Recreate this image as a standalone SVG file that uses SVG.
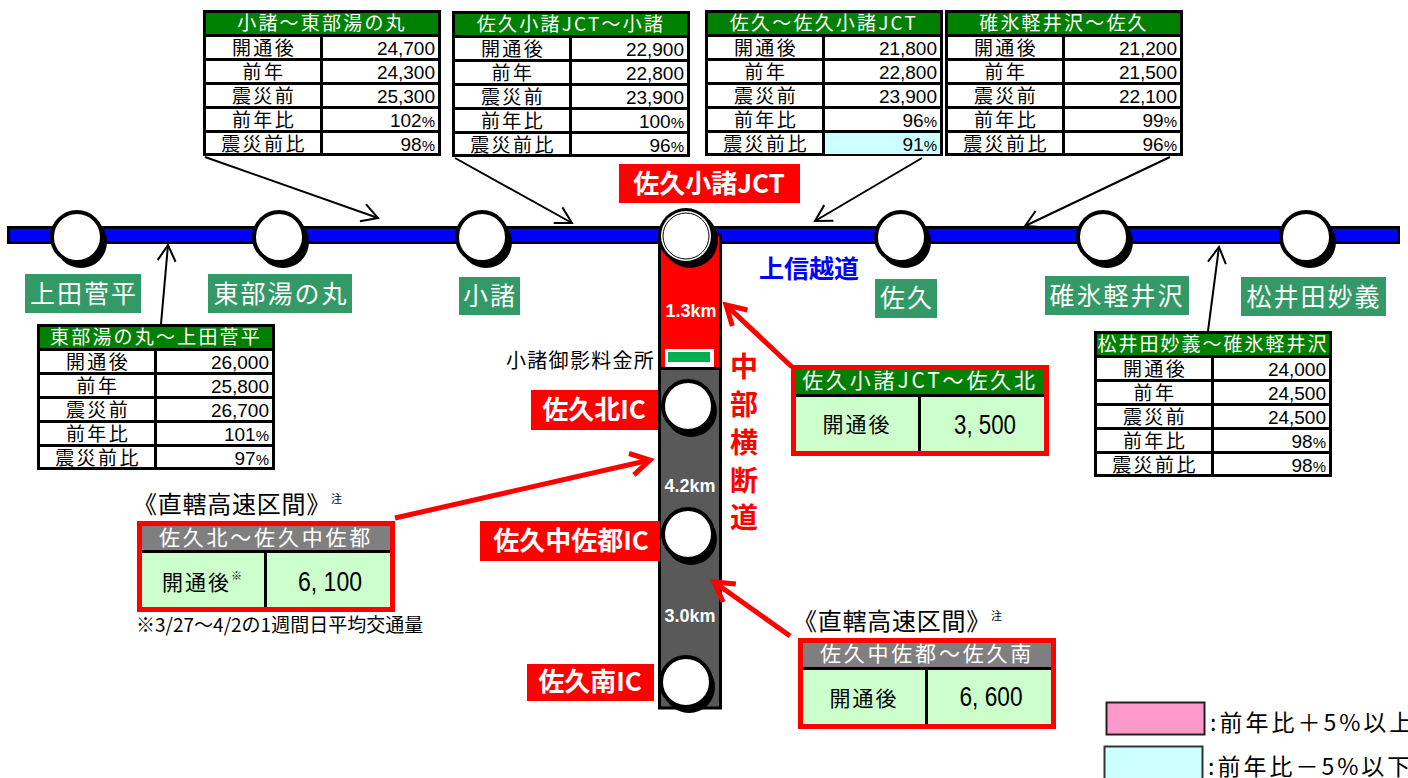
<svg xmlns="http://www.w3.org/2000/svg" width="1408" height="778" viewBox="0 0 1408 778">
<style>
text{font-family:"Noto Sans CJK JP","Liberation Sans",sans-serif;fill:#000}
.hd{font-size:19px;fill:#fff;text-anchor:middle;letter-spacing:2.2px}
.lb{font-size:19px;text-anchor:middle;letter-spacing:2.4px}
.nm{font-family:"Liberation Sans",sans-serif;font-size:19px;text-anchor:end}
.pc{font-size:15px}
.st{font-size:25px;fill:#fff;text-anchor:middle;letter-spacing:2px}
.ic{font-size:26px;font-weight:700;fill:#fff;text-anchor:middle}
.km{font-family:"Liberation Sans",sans-serif;font-size:18px;font-weight:700;fill:#fff;text-anchor:middle}
.big{font-size:21px;text-anchor:middle;letter-spacing:2px}
.val{font-family:"Liberation Sans",sans-serif;font-size:27px;text-anchor:middle}
.bhd{font-size:21px;fill:#fff;text-anchor:middle;letter-spacing:2.8px}
.ttl{font-size:24px;letter-spacing:.75px}
.sm{font-size:11px}
.vt{font-size:28px;font-weight:700;fill:#f00;text-anchor:middle}
.st-bg{fill:#396}
.ic-bg{fill:#f00}
.blk{fill:none;stroke:#000;stroke-width:2}
.red{fill:none;stroke:#f00;stroke-width:5}
.cs{fill:#000}
.cw{fill:#fff;stroke:#000;stroke-width:4}
</style>
<defs>
<marker id="ab" markerUnits="userSpaceOnUse" markerWidth="24" markerHeight="24" refX="20" refY="12" orient="auto"><path d="M4 3L20 12L4 21" fill="none" stroke="#000" stroke-width="2"/></marker>
<marker id="ar" markerUnits="userSpaceOnUse" markerWidth="36" markerHeight="36" refX="28" refY="18" orient="auto"><path d="M9 7L28 18L9 29" fill="none" stroke="#f00" stroke-width="5"/></marker>
<g id="tbl">
<rect x="1.5" y="1.5" width="235" height="143" fill="#fff" stroke="#000" stroke-width="3"/>
<rect x="3" y="3" width="232" height="22" fill="#008000"/>
<path d="M2 25.5H236M2 49.5H236M2 73.5H236M2 97.5H236M2 121.5H236M118.5 25V145" fill="none" stroke="#000" stroke-width="3"/>
</g>
<g id="box">
<rect x="2.500" y="2.500" width="253" height="86" fill="#cfc" stroke="#f00" stroke-width="5"/>
<path d="M5 30.500H253M128.500 32V86" fill="none" stroke="#000" stroke-width="3"/>
</g>
</defs>

<g id="road-joshinetsu"><rect x="8.500" y="227.500" width="1390" height="15" fill="#00f" stroke="#000" stroke-width="3"/></g>
<g id="road-chubu">
<rect x="659.500" y="235" width="61" height="473" fill="#595959" stroke="#000" stroke-width="3"/>
<rect x="661" y="236" width="58" height="131" fill="#f00"/>
<path d="M659 368.500H721" stroke="#000" stroke-width="3"/>
</g>

<g id="connectors">
<path class="blk" marker-end="url(#ab)" d="M205 157L378 218"/>
<path class="blk" marker-end="url(#ab)" d="M455 158L572 223"/>
<path class="blk" marker-end="url(#ab)" d="M922 158L815 221"/>
<path class="blk" marker-end="url(#ab)" d="M1170 157L1025 226"/>
<path class="blk" marker-end="url(#ab)" d="M161 324L168 245"/>
<path class="blk" marker-end="url(#ab)" d="M1208 331L1219 247"/>
<path class="red" marker-end="url(#ar)" d="M792 367L726 305"/>
<path class="red" marker-end="url(#ar)" d="M395 518L650 460"/>
<path class="red" marker-end="url(#ar)" d="M790 636L714 582"/>
</g>

<g id="n-ueda"><circle class="cs" cx="81" cy="242" r="26"/><circle class="cw" cx="77" cy="237" r="25"/><rect class="st-bg" x="25" y="274" width="116" height="39"/><text class="st" x="84" y="303">上田菅平</text></g>
<g id="n-tobu"><circle class="cs" cx="283" cy="242" r="26"/><circle class="cw" cx="279" cy="237" r="25"/><rect class="st-bg" x="208" y="274" width="144" height="39"/><text class="st" x="281" y="303">東部湯の丸</text></g>
<g id="n-komoro"><circle class="cs" cx="486" cy="242" r="26"/><circle class="cw" cx="482" cy="237" r="25"/><rect class="st-bg" x="459" y="277" width="61" height="38"/><text class="st" x="490" y="305">小諸</text></g>
<g id="n-jct"><circle class="cs" cx="690" cy="240" r="28"/><circle cx="686" cy="236" r="28" fill="#000"/><circle cx="686" cy="236" r="25" fill="#fff"/><circle cx="686" cy="236" r="23" fill="#fff" stroke="#000" stroke-width="1"/><rect class="ic-bg" x="619" y="164" width="181" height="39"/><text class="ic" x="709" y="193">佐久小諸JCT</text></g>
<g id="n-saku"><circle class="cs" cx="905" cy="242" r="26"/><circle class="cw" cx="901" cy="237" r="25"/><rect class="st-bg" x="875" y="279" width="62" height="39"/><text class="st" x="907" y="307">佐久</text></g>
<g id="n-usui"><circle class="cs" cx="1107" cy="242" r="26"/><circle class="cw" cx="1103" cy="237" r="25"/><rect class="st-bg" x="1045" y="276" width="144" height="39"/><text class="st" x="1117" y="305">碓氷軽井沢</text></g>
<g id="n-matsuida"><circle class="cs" cx="1310" cy="242" r="26"/><circle class="cw" cx="1306" cy="237" r="25"/><rect class="st-bg" x="1241" y="277" width="145" height="39"/><text class="st" x="1314" y="306">松井田妙義</text></g>
<g id="n-sakukita"><circle class="cs" cx="691" cy="411" r="26"/><circle class="cw" cx="688" cy="406" r="25"/><rect class="ic-bg" x="531" y="390" width="127" height="40"/><text class="ic" x="594" y="419">佐久北IC</text></g>
<g id="n-nakasato"><circle class="cs" cx="691" cy="539" r="26"/><circle class="cw" cx="688" cy="534" r="25"/><rect class="ic-bg" x="480" y="521" width="180" height="40"/><text class="ic" x="571" y="550">佐久中佐都IC</text></g>
<g id="n-sakuminami"><circle class="cs" cx="689" cy="687" r="26"/><circle class="cw" cx="686" cy="682" r="25"/><rect class="ic-bg" x="527" y="664" width="127" height="37"/><text class="ic" x="590" y="691">佐久南IC</text></g>

<g id="road-labels">
<text x="809" y="278" font-size="25" font-weight="700" text-anchor="middle" style="fill:#00f">上信越道</text>
<text class="km" x="691" y="317">1.3km</text>
<text class="km" x="690" y="492">4.2km</text>
<text class="km" x="690" y="622">3.0km</text>
<text class="vt" x="744" y="377">中</text>
<text class="vt" x="744" y="415">部</text>
<text class="vt" x="744" y="453">横</text>
<text class="vt" x="744" y="491">断</text>
<text class="vt" x="744" y="528">道</text>
</g>
<g id="tollgate">
<text x="506" y="368" font-size="20" letter-spacing="1.300">小諸御影料金所</text>
<rect x="665" y="349" width="49" height="18" fill="#fff"/><rect x="668" y="352" width="42" height="10" fill="#00b050"/>
</g>

<g id="t-komoro-tobu" transform="translate(203 10)"><use href="#tbl"/><text class="hd" x="119" y="20">小諸～東部湯の丸</text><text class="lb" x="61" y="45">開通後</text><text class="lb" x="61" y="69">前年</text><text class="lb" x="61" y="93">震災前</text><text class="lb" x="61" y="117">前年比</text><text class="lb" x="61" y="141">震災前比</text><text class="nm" x="232" y="45">24,700</text><text class="nm" x="232" y="69">24,300</text><text class="nm" x="232" y="93">25,300</text><text class="nm" x="232" y="117">102<tspan class="pc">%</tspan></text><text class="nm" x="232" y="141">98<tspan class="pc">%</tspan></text></g>
<g id="t-jct-komoro" transform="translate(452 11)"><use href="#tbl"/><text class="hd" x="119" y="20">佐久小諸JCT～小諸</text><text class="lb" x="61" y="45">開通後</text><text class="lb" x="61" y="69">前年</text><text class="lb" x="61" y="93">震災前</text><text class="lb" x="61" y="117">前年比</text><text class="lb" x="61" y="141">震災前比</text><text class="nm" x="232" y="45">22,900</text><text class="nm" x="232" y="69">22,800</text><text class="nm" x="232" y="93">23,900</text><text class="nm" x="232" y="117">100<tspan class="pc">%</tspan></text><text class="nm" x="232" y="141">96<tspan class="pc">%</tspan></text></g>
<g id="t-saku-jct" transform="translate(705 10)"><use href="#tbl"/><rect x="120" y="123" width="115" height="21" fill="#cff"/><text class="hd" x="119" y="20">佐久～佐久小諸JCT</text><text class="lb" x="61" y="45">開通後</text><text class="lb" x="61" y="69">前年</text><text class="lb" x="61" y="93">震災前</text><text class="lb" x="61" y="117">前年比</text><text class="lb" x="61" y="141">震災前比</text><text class="nm" x="232" y="45">21,800</text><text class="nm" x="232" y="69">22,800</text><text class="nm" x="232" y="93">23,900</text><text class="nm" x="232" y="117">96<tspan class="pc">%</tspan></text><text class="nm" x="232" y="141">91<tspan class="pc">%</tspan></text></g>
<g id="t-usui-saku" transform="translate(945 10)"><use href="#tbl"/><text class="hd" x="119" y="20">碓氷軽井沢～佐久</text><text class="lb" x="61" y="45">開通後</text><text class="lb" x="61" y="69">前年</text><text class="lb" x="61" y="93">震災前</text><text class="lb" x="61" y="117">前年比</text><text class="lb" x="61" y="141">震災前比</text><text class="nm" x="232" y="45">21,200</text><text class="nm" x="232" y="69">21,500</text><text class="nm" x="232" y="93">22,100</text><text class="nm" x="232" y="117">99<tspan class="pc">%</tspan></text><text class="nm" x="232" y="141">96<tspan class="pc">%</tspan></text></g>
<g id="t-tobu-ueda" transform="translate(37 324)"><use href="#tbl"/><text class="hd" x="119" y="20">東部湯の丸～上田菅平</text><text class="lb" x="61" y="45">開通後</text><text class="lb" x="61" y="69">前年</text><text class="lb" x="61" y="93">震災前</text><text class="lb" x="61" y="117">前年比</text><text class="lb" x="61" y="141">震災前比</text><text class="nm" x="232" y="45">26,000</text><text class="nm" x="232" y="69">25,800</text><text class="nm" x="232" y="93">26,700</text><text class="nm" x="232" y="117">101<tspan class="pc">%</tspan></text><text class="nm" x="232" y="141">97<tspan class="pc">%</tspan></text></g>
<g id="t-matsuida-usui" transform="translate(1094 331)"><use href="#tbl"/><text class="hd" x="119" y="20" style="letter-spacing:2px">松井田妙義～碓氷軽井沢</text><text class="lb" x="61" y="45">開通後</text><text class="lb" x="61" y="69">前年</text><text class="lb" x="61" y="93">震災前</text><text class="lb" x="61" y="117">前年比</text><text class="lb" x="61" y="141">震災前比</text><text class="nm" x="232" y="45">24,000</text><text class="nm" x="232" y="69">24,500</text><text class="nm" x="232" y="93">24,500</text><text class="nm" x="232" y="117">98<tspan class="pc">%</tspan></text><text class="nm" x="232" y="141">98<tspan class="pc">%</tspan></text></g>

<g id="b-jct-kita" transform="translate(791 365)"><use href="#box"/><rect x="5" y="5" width="248" height="24" fill="#008000"/><text class="bhd" x="129" y="23">佐久小諸JCT～佐久北</text><text class="big" x="66" y="67">開通後</text><text class="val" x="194" y="69" textLength="62" lengthAdjust="spacingAndGlyphs">3, 500</text></g>
<g id="b-kita-nakasato" transform="translate(137 521)"><use href="#box"/><rect x="5" y="5" width="248" height="24" fill="#7f7f7f"/><text class="bhd" x="129" y="24">佐久北～佐久中佐都</text><text class="big" x="66" y="69">開通後<tspan class="sm" dy="-10">※</tspan></text><text class="val" x="193" y="70" textLength="64" lengthAdjust="spacingAndGlyphs">6, 100</text></g>
<g id="b-nakasato-minami" transform="translate(798 638)"><use href="#box"/><rect x="5" y="5" width="248" height="24" fill="#7f7f7f"/><text class="bhd" x="129" y="23">佐久中佐都～佐久南</text><text class="big" x="66" y="68">開通後</text><text class="val" x="193" y="68" textLength="63" lengthAdjust="spacingAndGlyphs">6, 600</text></g>

<g id="notes">
<text class="ttl" x="133" y="513">《直轄高速区間》<tspan class="sm" dy="-10">注</tspan></text>
<text class="ttl" x="793" y="630">《直轄高速区間》<tspan class="sm" dy="-10">注</tspan></text>
<text x="136" y="632" font-size="19">※3/27～4/2の1週間日平均交通量</text>
</g>
<g id="legend">
<rect x="1106.500" y="702.500" width="98" height="32" fill="#f9c" stroke="#222" stroke-width="2"/>
<text x="1210" y="731" font-size="23" letter-spacing="3">:前年比＋5%以上</text>
<rect x="1104.500" y="746.500" width="98" height="34" fill="#cff" stroke="#333" stroke-width="2"/>
<text x="1208" y="775" font-size="23" letter-spacing="3">:前年比－5%以下</text>
</g>
</svg>
